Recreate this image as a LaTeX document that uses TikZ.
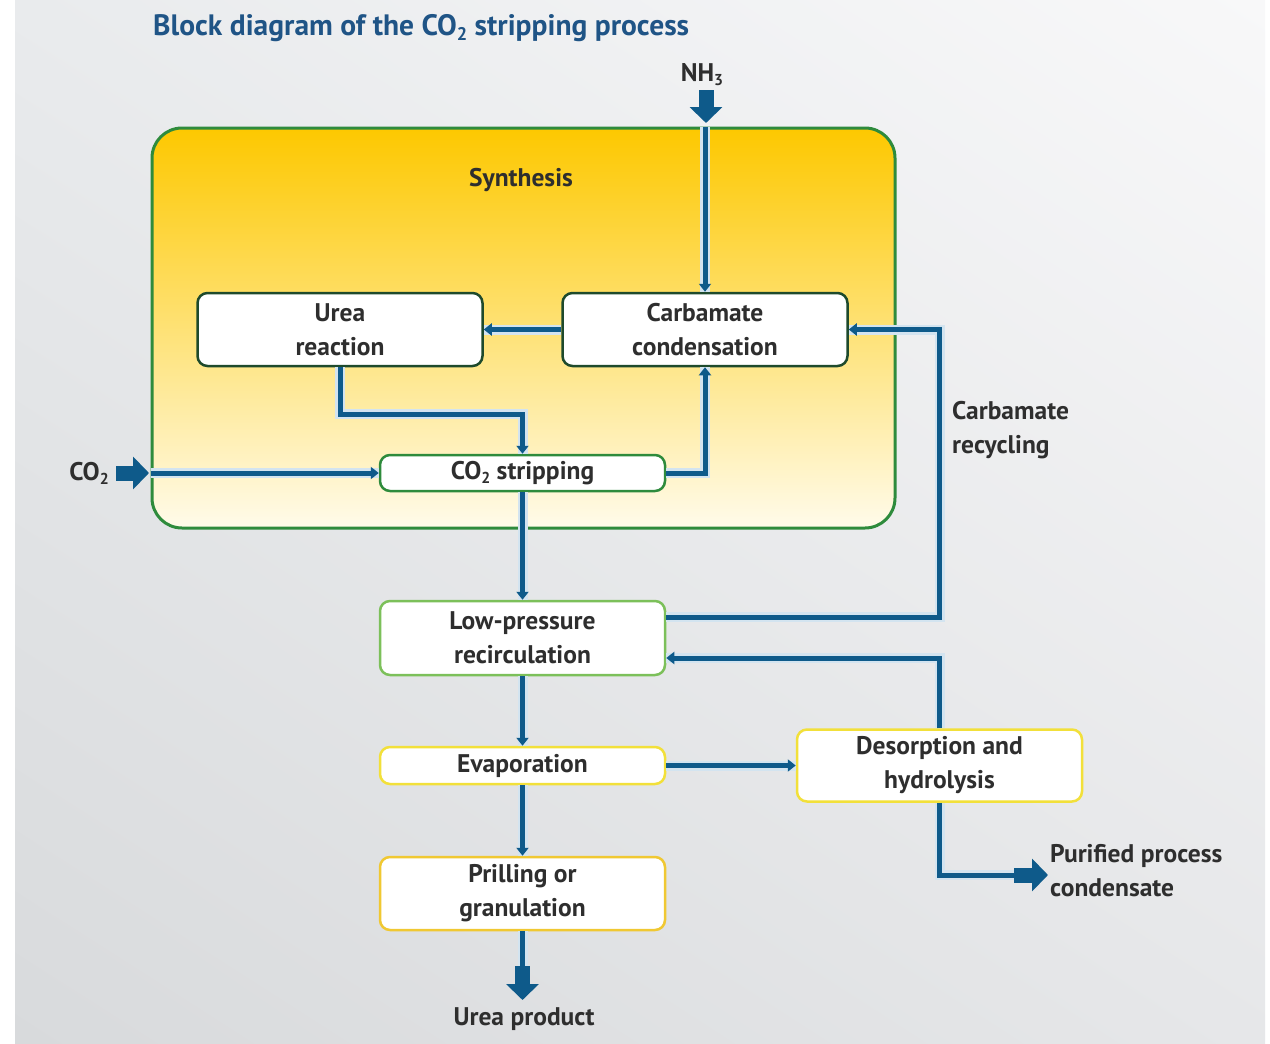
\documentclass[tikz,border=0pt]{standalone}
\usepackage{fontspec}
\setmainfont{PT Sans}
\usepackage{graphicx}
\usetikzlibrary{arrows.meta,calc,shadings}
\definecolor{flowblue}{HTML}{0E5A8A}
\definecolor{halo}{HTML}{D3E4F0}
\definecolor{titleblue}{HTML}{1F5486}
\definecolor{txt}{HTML}{2E2E2E}
\definecolor{synGreen}{HTML}{2E8B3C}
\definecolor{darkGreen}{HTML}{1E4A2C}
\definecolor{lightGreen}{HTML}{7CC05A}
\definecolor{evapYellow}{HTML}{F2E03A}
\definecolor{prillYellow}{HTML}{F0C832}
\definecolor{synTop}{HTML}{FDC800}
\definecolor{synBot}{HTML}{FFFBEA}
\definecolor{bgA}{HTML}{E9EBED}
\definecolor{bgB}{HTML}{F8F8F9}
\definecolor{bgC}{HTML}{D8DADC}
\definecolor{bgD}{HTML}{E6E7E9}
\newcommand\subtwo[1]{\raisebox{-0.32ex}{\scalebox{0.62}{#1}}}
\begin{document}
\begin{tikzpicture}[x=1pt,y=-1pt,
  font=\bfseries\fontsize{25.5}{34}\selectfont,
  every node/.style={text=txt},
  box/.style={draw, line width=2.5pt, fill=white, rounded corners=10pt,
    minimum width=285pt, inner sep=0pt, align=center},
  flow/.style={draw=flowblue, line width=5pt, -{Triangle[width=12pt,length=8pt]},
    preaction={draw=halo, line width=10pt, -}},
  plain/.style={draw=flowblue, line width=5pt, preaction={draw=halo, line width=10pt}},
  fat/.style={draw=flowblue, line width=15pt, -{Triangle[width=32pt,length=16pt]}},
  lbl/.style={align=left, inner sep=0pt}]
\useasboundingbox (0,0) rectangle (1270,1044);
\fill[white] (0,0) rectangle (1270,1044);
\shade[upper left=bgA, upper right=bgB, lower left=bgC, lower right=bgD] (15,0) rectangle (1265,1044);

% title
\node[anchor=west, inner sep=0pt, text=titleblue, font=\bfseries\fontsize{29.5}{34}\selectfont] (title) at (153,28) {Block diagram of the CO\subtwo{2} stripping process};

% synthesis area
\node[draw=synGreen, line width=3pt, rounded corners=30pt, top color=synTop, bottom color=synBot,
  minimum width=743pt, minimum height=400pt, inner sep=0pt] (syn) at (523.5,328) {};
\node (synlbl) at (521,180) {Synthesis};

% blocks
\node[box, draw=darkGreen, minimum height=73pt] (urea) at (340,329.5) {Urea\\reaction};
\node[box, draw=darkGreen, minimum height=73pt] (carb) at (705,329.5) {Carbamate\\condensation};
\node[box, draw=synGreen, minimum height=36pt] (strip) at (522.5,473) {CO\subtwo{2} stripping};
\node[box, draw=lightGreen, minimum height=74pt] (lp) at (522.5,638) {Low-pressure\\recirculation};
\node[box, draw=evapYellow, minimum height=37pt] (evap) at (522.5,765.5) {Evaporation};
\node[box, draw=prillYellow, minimum height=73pt] (prill) at (522.5,893.5) {Prilling or\\granulation};
\node[box, draw=evapYellow, minimum height=72pt] (deso) at (939.5,765.5) {Desorption and\\hydrolysis};

% labels
\node[inner sep=0pt] (nh3lbl) at (702,75) {NH\subtwo{3}};
\node[inner sep=0pt] (co2lbl) at (89,473) {CO\subtwo{2}};
\node[lbl, anchor=west] (reclbl) at (952,430) {Carbamate\\recycling};
\node[lbl, anchor=west] (purlbl) at (1050,871) {Purified process\\condensate};
\node[inner sep=0pt] (prodlbl) at (524,1019) {Urea product};

% coordinates
\coordinate (nh3a) at (706,90);
\coordinate (nh3b) at (706,123);
\coordinate (co2a) at (116,473);
\coordinate (co2b) at (149,473);
\coordinate (proda) at (522.5,966);
\coordinate (prodb) at (522.5,1000);
\coordinate (pura) at (1014,875);
\coordinate (purb) at (1048,875);
\coordinate (purc) at (deso.south |- pura);

% connectors
\draw[flow] (syn.north -| carb.north) -- (carb.north);
\draw[flow] (carb.west) -- (urea.east);
\draw[flow] (urea.south) -- ++(0,47) -| (strip.north);
\draw[flow] (strip.east) -| (carb.south);
\draw[flow] (syn.west |- strip.west) -- (strip.west);
\draw[flow] (strip.south) -- (lp.north);
\draw[flow] ([yshift=21pt]lp.east) -| (deso.north |- carb.east) -- (carb.east);
\draw[flow] (deso.north) |- ([yshift=-20pt]lp.east);
\draw[flow] (lp.south) -- (evap.north);
\draw[flow] (evap.east) -- (deso.west);
\draw[flow] (evap.south) -- (prill.north);
\draw[plain] (prill.south) -- (proda);
\draw[plain] (deso.south) -- (purc) -- (pura);

% fat arrows
\draw[fat] (nh3a) -- (nh3b);
\draw[fat] (co2a) -- (co2b);
\draw[fat] (proda) -- (prodb);
\draw[fat] (pura) -- (purb);
\end{tikzpicture}
\end{document}
